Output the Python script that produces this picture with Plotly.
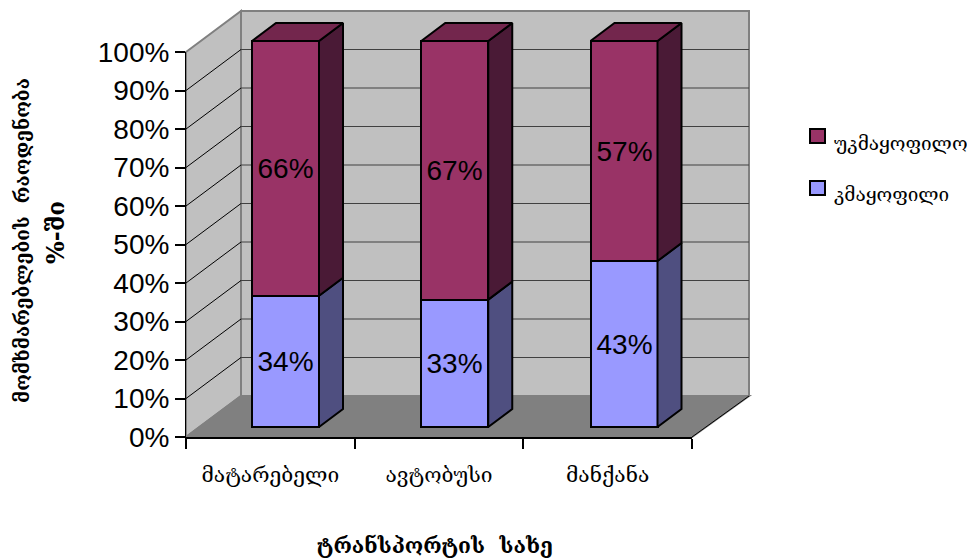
import plotly.graph_objects as go

categories = ["მატარებელი", "ავტობუსი", "მანქანა"]
satisfied = [34, 33, 43]
unsatisfied = [66, 67, 57]
tick_values = list(range(0, 101, 10))
tick_labels = [f"{v}%" for v in tick_values]
name_sat = "კმაყოფილი"
name_unsat = "უკმაყოფილო"
x_title = "ტრანსპორტის  სახე"
y_title_1 = "მომხმარებლების  რაოდენობა"
y_title_2 = "%-ში"

PAGE_OFFSET = 8                      # default body margin of the page
W, H = 975 - PAGE_OFFSET, 559 - PAGE_OFFSET
FONT = "Liberation Sans"
GEO = "DejaVu Serif, DejaVu Sans"

# pixel frame of the chart
L, R, T, B = 186, 692, 52, 437      # front plane
DX, DY = 55, 41                      # full depth of box
def px(x): return (x - PAGE_OFFSET) / W
def py(y): return 1 - (y - PAGE_OFFSET) / H

# bar layer: separate axes covering box + depth
PX_PER_CAT = 169.25
PX_PER_PCT = 3.86
X0_PX, Y0_PX = 285.5, 427            # pixel of category 0, value 0
AL, AR, AT, AB = L, R + DX + 3, T - DY - 3, B
x2range = [(AL - X0_PX) / PX_PER_CAT, (AR - X0_PX) / PX_PER_CAT]
y2range = [(Y0_PX - AB) / PX_PER_PCT, (Y0_PX - AT) / PX_PER_PCT]
BAR_W = 67 / PX_PER_CAT
DEPTH_X = 24 / PX_PER_CAT
DEPTH_Y = 18 / PX_PER_PCT

fig = go.Figure()
shapes = []
def poly(pts, fill, line="#808080", width=2):
    path = "M " + " L ".join(f"{px(x)} {py(y)}" for x, y in pts) + " Z"
    shapes.append(dict(type="path", xref="paper", yref="paper", path=path,
                       fillcolor=fill, line=dict(color=line, width=width), layer="below"))
def seg(a, b, color="#000000", width=1):
    shapes.append(dict(type="line", xref="paper", yref="paper",
                       x0=px(a[0]), y0=py(a[1]), x1=px(b[0]), y1=py(b[1]),
                       line=dict(color=color, width=width), layer="below"))

poly([(L + DX, T - DY), (R + DX + 2, T - DY), (R + DX + 2, B - DY), (L + DX, B - DY)], "#C0C0C0")
poly([(L, T), (L + DX, T - DY), (L + DX, B - DY), (L, B)], "#C0C0C0")
poly([(L, B), (L + DX, B - DY), (R + DX + 2, B - DY), (R, B)], "#808080")
for v in tick_values[1:-1]:
    yy = B - (B - T) * v / 100
    seg((L, yy), (L + DX, yy - DY))
    seg((L + DX, yy - DY), (R + DX + 2, yy - DY), "#404040")
seg((R, B), (R + DX + 2, B - DY))

x_pos = list(range(len(categories)))

def side_trace(vals_from, vals_to, color):
    for i in x_pos:
        xr = i + BAR_W / 2
        fig.add_trace(go.Scatter(
            x=[xr, xr + DEPTH_X, xr + DEPTH_X, xr, xr],
            y=[vals_from[i], vals_from[i] + DEPTH_Y, vals_to[i] + DEPTH_Y, vals_to[i], vals_from[i]],
            mode="lines", fill="toself", fillcolor=color,
            line=dict(color="#000000", width=2), xaxis="x2", yaxis="y2",
            showlegend=False, hoverinfo="skip"))

totals = [a + b for a, b in zip(satisfied, unsatisfied)]
side_trace([0] * 3, satisfied, "#4F4F80")
side_trace(satisfied, totals, "#4A1A36")
for i in x_pos:
    xl, xr = i - BAR_W / 2, i + BAR_W / 2
    fig.add_trace(go.Scatter(
        x=[xl, xl + DEPTH_X, xr + DEPTH_X, xr, xl],
        y=[totals[i], totals[i] + DEPTH_Y, totals[i] + DEPTH_Y, totals[i], totals[i]],
        mode="lines", fill="toself", fillcolor="#73264D",
        line=dict(color="#000000", width=2), xaxis="x2", yaxis="y2",
        showlegend=False, hoverinfo="skip"))

fig.add_trace(go.Bar(x=x_pos, y=satisfied, width=BAR_W, name=name_sat, xaxis="x2", yaxis="y2",
                     marker=dict(color="#9999FF", line=dict(color="#000000", width=2)),
                     text=[f"{v}%" for v in satisfied], textposition="inside", insidetextanchor="middle",
                     textangle=0, textfont=dict(family=FONT, size=28, color="#000000"), showlegend=False))
fig.add_trace(go.Bar(x=x_pos, y=unsatisfied, width=BAR_W, name=name_unsat, xaxis="x2", yaxis="y2",
                     marker=dict(color="#993366", line=dict(color="#000000", width=2)),
                     text=[f"{v}%" for v in unsatisfied], textposition="inside", insidetextanchor="middle",
                     textangle=0, textfont=dict(family=FONT, size=28, color="#000000"), showlegend=False))
# category axis carrier
fig.add_trace(go.Scatter(x=categories, y=[0, 0, 0], mode="markers", marker=dict(opacity=0),
                         showlegend=False, hoverinfo="skip"))

# legend
for yc, fill in [(136, "#993366"), (188, "#9999FF")]:
    shapes.append(dict(type="rect", xref="paper", yref="paper", x0=px(810), x1=px(825), y0=py(yc + 7), y1=py(yc - 7),
                       fillcolor=fill, line=dict(color="#000000", width=2), layer="above"))

def note(text, x, y, size, angle=0, anchor="center"):
    return dict(text=text, x=px(x), y=py(y), xref="paper", yref="paper", xanchor=anchor, yanchor="middle",
                showarrow=False, textangle=angle, font=dict(family=GEO, size=size, color="#000000"))

annotations = [
    note(name_unsat, 832, 143, 19, anchor="left"),
    note(name_sat, 832, 194, 19, anchor="left"),
    note(f"<b>{x_title}</b>", 435, 545, 21),
    note(f"<b>{y_title_1}</b>", 22, 241, 19, angle=-90),
    note(f"<b>{y_title_2}</b>", 55, 233, 24, angle=-90),
]

fig.update_layout(
    width=W, height=H, autosize=False, barmode="stack", bargap=0,
    paper_bgcolor="#FFFFFF", plot_bgcolor="rgba(0,0,0,0)",
    margin=dict(l=0, r=0, t=0, b=0), showlegend=False,
    shapes=shapes, annotations=annotations,
    xaxis=dict(domain=[px(L), px(R)], anchor="y", type="category", categoryorder="array", categoryarray=categories,
               range=[-0.5, 2.5], automargin=False, tickson="boundaries", ticks="outside", ticklen=10, tickwidth=1.5,
               tickcolor="#000000", showgrid=False, showline=True, linecolor="#000000", linewidth=2,
               ticklabelstandoff=18, tickfont=dict(family=GEO, size=21, color="#000000"), zeroline=False),
    yaxis=dict(domain=[py(B), py(T)], anchor="x", range=[0, 100], tickvals=tick_values, ticktext=tick_labels,
               automargin=False, ticks="outside", ticklen=10, tickwidth=1.5, tickcolor="#000000", showgrid=False,
               showline=True, linecolor="#000000", linewidth=1,
               tickfont=dict(family=FONT, size=28, color="#000000"), zeroline=False),
    xaxis2=dict(domain=[px(AL), px(AR)], anchor="y2", range=x2range, visible=False, automargin=False),
    yaxis2=dict(domain=[py(AB), py(AT)], anchor="x2", range=y2range, visible=False, automargin=False),
)
fig.write_html("out.html")
